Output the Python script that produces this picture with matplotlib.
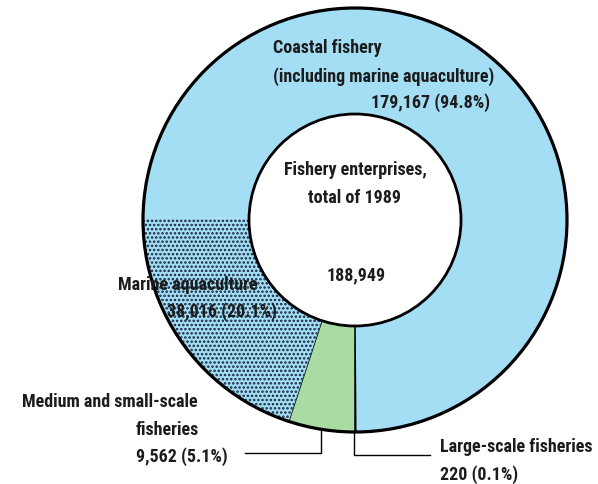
import numpy as np
import matplotlib
matplotlib.use("Agg")
import matplotlib.pyplot as plt
from matplotlib import font_manager as fm
from matplotlib.patches import Circle

# ---------------- data ----------------
categories = ["Large-scale fisheries", "Medium and small-scale fisheries",
              "Marine aquaculture", "Coastal fishery (other)"]
large_scale = 220
medium_small = 9562
coastal_total = 179167
marine_aquaculture = 38016
total = 188949
values = [large_scale, medium_small, marine_aquaculture, coastal_total - marine_aquaculture]
pct_large = 0.1
pct_medium = 5.1
pct_aqua = 20.1
pct_coastal = 94.8

# ---------------- font ----------------
def pick_family():
    for fam in ["Liberation Sans Narrow", "Roboto Condensed", "Open Sans Condensed"]:
        try:
            fm.findfont(fm.FontProperties(family=fam), fallback_to_default=False)
            return fam
        except Exception:
            pass
    return "DejaVu Sans"

FAM = pick_family()
plt.rcParams["font.family"] = [FAM, "DejaVu Sans"]
plt.rcParams["hatch.linewidth"] = 1.2

W, H = 598, 484
fig = plt.figure(figsize=(W / 100, H / 100), dpi=100)
ax = fig.add_axes([0, 0, 1, 1])

BLUE = "#a3def5"
GREEN = "#a9dca2"
NAVY = "#16263f"
TXT = "#1c1c1c"

cx, cy = 355, H - 220
R_out, R_in = 212, 106

start = 270 + values[0] / sum(values) * 360
wedges, _ = ax.pie(values, radius=R_out, center=(cx, cy), startangle=start,
                   counterclock=False,
                   colors=["#eef3e4", GREEN, BLUE, BLUE],
                   wedgeprops=dict(width=R_out - R_in, linewidth=0))

# hatch for marine aquaculture
wedges[2].set_hatch("....")
wedges[2].set_edgecolor(NAVY)
wedges[2].set_linewidth(0)
# black edges for green and the tiny large-scale slice
for w in (wedges[0], wedges[1]):
    w.set_edgecolor("black")
    w.set_linewidth(1.1)

ax.add_patch(Circle((cx, cy), R_out, fill=False, ec="black", lw=2.3, zorder=5))
ax.add_patch(Circle((cx, cy), R_in, fc="white", ec="black", lw=2.0, zorder=5))

ax.set_xlim(0, W)
ax.set_ylim(0, H)
ax.set_aspect("equal")
ax.axis("off")

def T(x, y, s, ha="left", **kw):
    ax.text(x, H - y, s, ha=ha, va="center", fontsize=13, fontweight="bold",
            color=TXT, zorder=10, **kw)

# coastal
T(273, 48, "Coastal fishery")
T(273, 77, "(including marine aquaculture)")
T(490, 103, f"{coastal_total:,} ({pct_coastal}%)", ha="right")
# center
T(355, 170, "Fishery enterprises,", ha="center")
T(355, 198, "total of 1989", ha="center")
T(356, 275, f"{total:,}", ha="center")
# marine aquaculture
T(118, 285, "Marine aquaculture")
T(277, 312, f"{marine_aquaculture:,} ({pct_aqua}%)", ha="right")
# medium
T(198, 402, "Medium and small-scale", ha="right")
T(136, 430, "fisheries")
T(136, 457, f"{medium_small:,} ({pct_medium}%)")
# large
T(440, 447, "Large-scale fisheries")
T(440, 475, f"{large_scale} ({pct_large}%)")

# leader lines from wedge mid-angles
def mid_angle(i):
    before = sum(values[:i])
    return np.deg2rad(start - (before + values[i] / 2) / sum(values) * 360)

a1 = mid_angle(1)
x1 = cx + R_out * np.cos(a1)
ax.plot([245, x1, x1], [H - 453, H - 453, cy + R_out * np.sin(a1) - 1],
        color="black", lw=1.0, zorder=6)
a0 = mid_angle(0)
x0 = cx + R_out * np.cos(a0) - 2
ax.plot([x0, x0, 430], [cy + R_out * np.sin(a0) - 1, H - 455, H - 455],
        color="black", lw=1.0, zorder=6)

fig.savefig("out.png", dpi=100)
